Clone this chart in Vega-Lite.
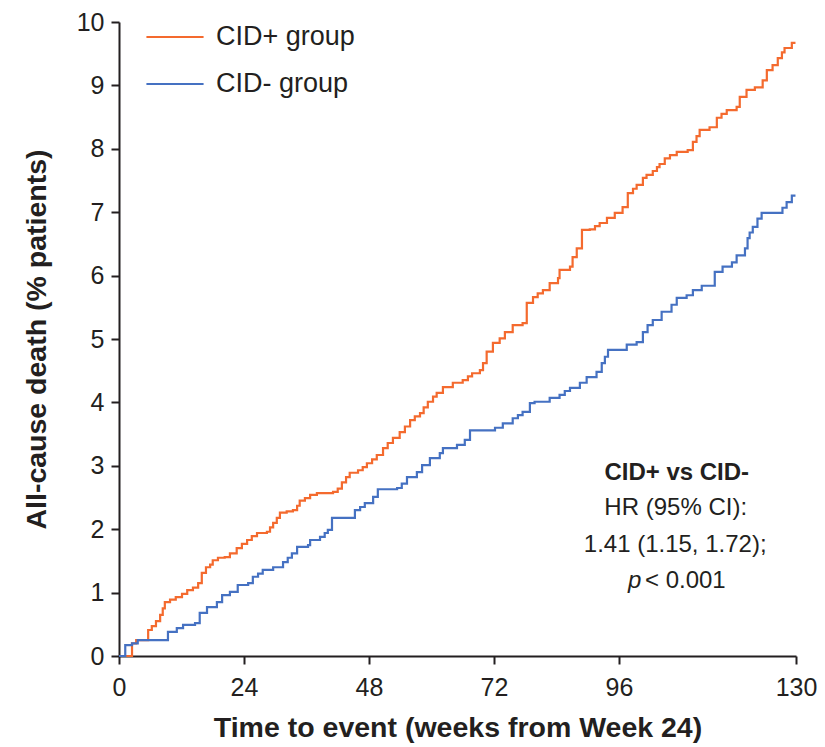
{
  "$schema": "https://vega.github.io/schema/vega-lite/v6.json",
  "width": 677,
  "height": 634,
  "autosize": "none",
  "padding": {"left": 119, "top": 22, "right": 29, "bottom": 91},
  "background": "white",
  "config": {
    "view": {"stroke": null},
    "font": "Liberation Sans",
    "text": {"font": "Liberation Sans", "color": "#231f20"}
  },
  "datasets": {
    "curves": [
      {"group": "CID+ group", "week": 0, "pct": 0},
      {"group": "CID+ group", "week": 2.5, "pct": 0.2},
      {"group": "CID+ group", "week": 3.3, "pct": 0.25},
      {"group": "CID+ group", "week": 5.6, "pct": 0.41},
      {"group": "CID+ group", "week": 6.3, "pct": 0.47},
      {"group": "CID+ group", "week": 7.1, "pct": 0.55},
      {"group": "CID+ group", "week": 7.9, "pct": 0.65},
      {"group": "CID+ group", "week": 8.4, "pct": 0.75},
      {"group": "CID+ group", "week": 8.8, "pct": 0.85},
      {"group": "CID+ group", "week": 9.8, "pct": 0.89},
      {"group": "CID+ group", "week": 10.9, "pct": 0.93},
      {"group": "CID+ group", "week": 12.1, "pct": 0.98},
      {"group": "CID+ group", "week": 13.1, "pct": 1.04},
      {"group": "CID+ group", "week": 14.2, "pct": 1.08},
      {"group": "CID+ group", "week": 15.2, "pct": 1.15},
      {"group": "CID+ group", "week": 15.9, "pct": 1.31},
      {"group": "CID+ group", "week": 16.7, "pct": 1.4},
      {"group": "CID+ group", "week": 17.5, "pct": 1.44},
      {"group": "CID+ group", "week": 18.0, "pct": 1.51},
      {"group": "CID+ group", "week": 19.0, "pct": 1.55},
      {"group": "CID+ group", "week": 20.3, "pct": 1.56},
      {"group": "CID+ group", "week": 21.3, "pct": 1.62},
      {"group": "CID+ group", "week": 22.6, "pct": 1.7},
      {"group": "CID+ group", "week": 23.6, "pct": 1.77},
      {"group": "CID+ group", "week": 24.6, "pct": 1.83},
      {"group": "CID+ group", "week": 25.5, "pct": 1.89},
      {"group": "CID+ group", "week": 26.5, "pct": 1.94},
      {"group": "CID+ group", "week": 28.4, "pct": 1.96},
      {"group": "CID+ group", "week": 29.0, "pct": 2.03},
      {"group": "CID+ group", "week": 29.6, "pct": 2.1},
      {"group": "CID+ group", "week": 30.3, "pct": 2.18},
      {"group": "CID+ group", "week": 30.9, "pct": 2.26},
      {"group": "CID+ group", "week": 32.2, "pct": 2.28},
      {"group": "CID+ group", "week": 33.4, "pct": 2.3},
      {"group": "CID+ group", "week": 34.2, "pct": 2.37},
      {"group": "CID+ group", "week": 34.7, "pct": 2.45},
      {"group": "CID+ group", "week": 35.7, "pct": 2.49},
      {"group": "CID+ group", "week": 36.7, "pct": 2.54},
      {"group": "CID+ group", "week": 38.0, "pct": 2.57},
      {"group": "CID+ group", "week": 41.1, "pct": 2.59},
      {"group": "CID+ group", "week": 42.0, "pct": 2.64},
      {"group": "CID+ group", "week": 42.8, "pct": 2.74},
      {"group": "CID+ group", "week": 43.6, "pct": 2.82},
      {"group": "CID+ group", "week": 44.3, "pct": 2.89},
      {"group": "CID+ group", "week": 45.9, "pct": 2.93},
      {"group": "CID+ group", "week": 46.8, "pct": 2.98},
      {"group": "CID+ group", "week": 47.6, "pct": 3.04},
      {"group": "CID+ group", "week": 48.6, "pct": 3.1},
      {"group": "CID+ group", "week": 49.5, "pct": 3.17},
      {"group": "CID+ group", "week": 50.7, "pct": 3.28},
      {"group": "CID+ group", "week": 51.6, "pct": 3.36},
      {"group": "CID+ group", "week": 52.6, "pct": 3.44},
      {"group": "CID+ group", "week": 53.9, "pct": 3.53},
      {"group": "CID+ group", "week": 54.9, "pct": 3.62},
      {"group": "CID+ group", "week": 55.9, "pct": 3.72},
      {"group": "CID+ group", "week": 56.8, "pct": 3.78},
      {"group": "CID+ group", "week": 57.8, "pct": 3.83},
      {"group": "CID+ group", "week": 58.5, "pct": 3.92},
      {"group": "CID+ group", "week": 59.3, "pct": 4.01},
      {"group": "CID+ group", "week": 60.3, "pct": 4.09},
      {"group": "CID+ group", "week": 61.0, "pct": 4.15},
      {"group": "CID+ group", "week": 62.2, "pct": 4.24},
      {"group": "CID+ group", "week": 64.1, "pct": 4.31},
      {"group": "CID+ group", "week": 66.0, "pct": 4.35},
      {"group": "CID+ group", "week": 67.0, "pct": 4.41},
      {"group": "CID+ group", "week": 67.8, "pct": 4.46},
      {"group": "CID+ group", "week": 69.3, "pct": 4.51},
      {"group": "CID+ group", "week": 69.9, "pct": 4.62},
      {"group": "CID+ group", "week": 70.6, "pct": 4.8},
      {"group": "CID+ group", "week": 71.8, "pct": 4.94},
      {"group": "CID+ group", "week": 73.1, "pct": 5.01},
      {"group": "CID+ group", "week": 74.1, "pct": 5.11},
      {"group": "CID+ group", "week": 75.6, "pct": 5.22},
      {"group": "CID+ group", "week": 77.5, "pct": 5.25},
      {"group": "CID+ group", "week": 78.3, "pct": 5.57},
      {"group": "CID+ group", "week": 79.5, "pct": 5.66},
      {"group": "CID+ group", "week": 80.4, "pct": 5.72},
      {"group": "CID+ group", "week": 81.4, "pct": 5.77},
      {"group": "CID+ group", "week": 82.7, "pct": 5.88},
      {"group": "CID+ group", "week": 84.3, "pct": 5.96},
      {"group": "CID+ group", "week": 84.6, "pct": 6.09},
      {"group": "CID+ group", "week": 86.6, "pct": 6.14},
      {"group": "CID+ group", "week": 87.1, "pct": 6.29},
      {"group": "CID+ group", "week": 87.9, "pct": 6.43},
      {"group": "CID+ group", "week": 88.9, "pct": 6.72},
      {"group": "CID+ group", "week": 90.4, "pct": 6.73},
      {"group": "CID+ group", "week": 91.4, "pct": 6.78},
      {"group": "CID+ group", "week": 92.3, "pct": 6.83},
      {"group": "CID+ group", "week": 93.7, "pct": 6.91},
      {"group": "CID+ group", "week": 95.2, "pct": 6.99},
      {"group": "CID+ group", "week": 96.7, "pct": 7.08},
      {"group": "CID+ group", "week": 97.7, "pct": 7.3},
      {"group": "CID+ group", "week": 98.7, "pct": 7.37},
      {"group": "CID+ group", "week": 99.4, "pct": 7.43},
      {"group": "CID+ group", "week": 100.6, "pct": 7.54},
      {"group": "CID+ group", "week": 101.3, "pct": 7.59},
      {"group": "CID+ group", "week": 102.5, "pct": 7.65},
      {"group": "CID+ group", "week": 103.3, "pct": 7.71},
      {"group": "CID+ group", "week": 103.8, "pct": 7.76},
      {"group": "CID+ group", "week": 104.8, "pct": 7.85},
      {"group": "CID+ group", "week": 105.8, "pct": 7.9},
      {"group": "CID+ group", "week": 107.1, "pct": 7.95},
      {"group": "CID+ group", "week": 109.2, "pct": 7.98},
      {"group": "CID+ group", "week": 110.2, "pct": 8.11},
      {"group": "CID+ group", "week": 110.9, "pct": 8.2},
      {"group": "CID+ group", "week": 111.5, "pct": 8.3},
      {"group": "CID+ group", "week": 113.4, "pct": 8.34},
      {"group": "CID+ group", "week": 114.8, "pct": 8.49},
      {"group": "CID+ group", "week": 115.7, "pct": 8.55},
      {"group": "CID+ group", "week": 116.7, "pct": 8.61},
      {"group": "CID+ group", "week": 118.6, "pct": 8.66},
      {"group": "CID+ group", "week": 119.2, "pct": 8.82},
      {"group": "CID+ group", "week": 120.5, "pct": 8.93},
      {"group": "CID+ group", "week": 122.1, "pct": 8.97},
      {"group": "CID+ group", "week": 123.6, "pct": 9.08},
      {"group": "CID+ group", "week": 124.4, "pct": 9.24},
      {"group": "CID+ group", "week": 125.5, "pct": 9.32},
      {"group": "CID+ group", "week": 126.5, "pct": 9.43},
      {"group": "CID+ group", "week": 127.3, "pct": 9.52},
      {"group": "CID+ group", "week": 127.8, "pct": 9.59},
      {"group": "CID+ group", "week": 129.2, "pct": 9.67},
      {"group": "CID+ group", "week": 129.9, "pct": 9.67},
      {"group": "CID- group", "week": 0, "pct": 0},
      {"group": "CID- group", "week": 1.2, "pct": 0.17},
      {"group": "CID- group", "week": 2.5, "pct": 0.2},
      {"group": "CID- group", "week": 3.6, "pct": 0.25},
      {"group": "CID- group", "week": 9.4, "pct": 0.38},
      {"group": "CID- group", "week": 11.1, "pct": 0.44},
      {"group": "CID- group", "week": 12.3, "pct": 0.49},
      {"group": "CID- group", "week": 14.6, "pct": 0.52},
      {"group": "CID- group", "week": 15.5, "pct": 0.68},
      {"group": "CID- group", "week": 16.9, "pct": 0.77},
      {"group": "CID- group", "week": 18.8, "pct": 0.85},
      {"group": "CID- group", "week": 19.8, "pct": 0.96},
      {"group": "CID- group", "week": 21.3, "pct": 1.01},
      {"group": "CID- group", "week": 22.8, "pct": 1.12},
      {"group": "CID- group", "week": 24.8, "pct": 1.15},
      {"group": "CID- group", "week": 25.7, "pct": 1.25},
      {"group": "CID- group", "week": 26.7, "pct": 1.3},
      {"group": "CID- group", "week": 27.6, "pct": 1.36},
      {"group": "CID- group", "week": 29.6, "pct": 1.4},
      {"group": "CID- group", "week": 31.5, "pct": 1.48},
      {"group": "CID- group", "week": 32.4, "pct": 1.55},
      {"group": "CID- group", "week": 33.2, "pct": 1.62},
      {"group": "CID- group", "week": 34.2, "pct": 1.72},
      {"group": "CID- group", "week": 36.3, "pct": 1.75},
      {"group": "CID- group", "week": 36.7, "pct": 1.83},
      {"group": "CID- group", "week": 38.6, "pct": 1.88},
      {"group": "CID- group", "week": 39.5, "pct": 1.94},
      {"group": "CID- group", "week": 40.1, "pct": 1.99},
      {"group": "CID- group", "week": 40.9, "pct": 2.18},
      {"group": "CID- group", "week": 45.3, "pct": 2.3},
      {"group": "CID- group", "week": 46.3, "pct": 2.35},
      {"group": "CID- group", "week": 47.2, "pct": 2.41},
      {"group": "CID- group", "week": 48.8, "pct": 2.51},
      {"group": "CID- group", "week": 49.7, "pct": 2.63},
      {"group": "CID- group", "week": 53.4, "pct": 2.65},
      {"group": "CID- group", "week": 54.3, "pct": 2.72},
      {"group": "CID- group", "week": 55.3, "pct": 2.82},
      {"group": "CID- group", "week": 57.2, "pct": 2.9},
      {"group": "CID- group", "week": 58.2, "pct": 3.01},
      {"group": "CID- group", "week": 59.7, "pct": 3.12},
      {"group": "CID- group", "week": 61.6, "pct": 3.2},
      {"group": "CID- group", "week": 62.2, "pct": 3.28},
      {"group": "CID- group", "week": 64.9, "pct": 3.33},
      {"group": "CID- group", "week": 66.4, "pct": 3.41},
      {"group": "CID- group", "week": 67.4, "pct": 3.56},
      {"group": "CID- group", "week": 72.2, "pct": 3.6},
      {"group": "CID- group", "week": 73.7, "pct": 3.67},
      {"group": "CID- group", "week": 75.6, "pct": 3.75},
      {"group": "CID- group", "week": 76.6, "pct": 3.8},
      {"group": "CID- group", "week": 77.5, "pct": 3.85},
      {"group": "CID- group", "week": 78.9, "pct": 3.99},
      {"group": "CID- group", "week": 79.8, "pct": 4.01},
      {"group": "CID- group", "week": 82.7, "pct": 4.07},
      {"group": "CID- group", "week": 84.6, "pct": 4.12},
      {"group": "CID- group", "week": 85.6, "pct": 4.18},
      {"group": "CID- group", "week": 86.6, "pct": 4.23},
      {"group": "CID- group", "week": 88.5, "pct": 4.31},
      {"group": "CID- group", "week": 89.8, "pct": 4.4},
      {"group": "CID- group", "week": 91.7, "pct": 4.48},
      {"group": "CID- group", "week": 92.7, "pct": 4.62},
      {"group": "CID- group", "week": 93.3, "pct": 4.72},
      {"group": "CID- group", "week": 93.9, "pct": 4.83},
      {"group": "CID- group", "week": 97.5, "pct": 4.91},
      {"group": "CID- group", "week": 99.4, "pct": 4.95},
      {"group": "CID- group", "week": 100.6, "pct": 5.11},
      {"group": "CID- group", "week": 101.5, "pct": 5.22},
      {"group": "CID- group", "week": 102.5, "pct": 5.3},
      {"group": "CID- group", "week": 104.2, "pct": 5.43},
      {"group": "CID- group", "week": 106.1, "pct": 5.54},
      {"group": "CID- group", "week": 107.1, "pct": 5.65},
      {"group": "CID- group", "week": 109.0, "pct": 5.69},
      {"group": "CID- group", "week": 110.2, "pct": 5.77},
      {"group": "CID- group", "week": 111.9, "pct": 5.84},
      {"group": "CID- group", "week": 114.4, "pct": 6.06},
      {"group": "CID- group", "week": 115.9, "pct": 6.14},
      {"group": "CID- group", "week": 117.7, "pct": 6.21},
      {"group": "CID- group", "week": 118.6, "pct": 6.32},
      {"group": "CID- group", "week": 120.2, "pct": 6.43},
      {"group": "CID- group", "week": 120.7, "pct": 6.59},
      {"group": "CID- group", "week": 121.1, "pct": 6.68},
      {"group": "CID- group", "week": 121.7, "pct": 6.77},
      {"group": "CID- group", "week": 122.6, "pct": 6.9},
      {"group": "CID- group", "week": 123.4, "pct": 6.99},
      {"group": "CID- group", "week": 127.4, "pct": 7.07},
      {"group": "CID- group", "week": 128.2, "pct": 7.16},
      {"group": "CID- group", "week": 129.2, "pct": 7.26},
      {"group": "CID- group", "week": 129.9, "pct": 7.26}
    ],
    "note": [{"n": 1}]
  },
  "layer": [
    {
      "data": {"name": "curves"},
      "mark": {"type": "line", "interpolate": "step-after", "strokeWidth": 2.2},
      "encoding": {
        "x": {
          "field": "week", "type": "quantitative",
          "scale": {"domain": [0, 130], "nice": false, "zero": false},
          "axis": {
            "values": [0, 24, 48, 72, 96, 130],
            "title": "Time to event (weeks from Week 24)",
            "grid": false,
            "domainColor": "#231f20", "domainWidth": 2,
            "tickColor": "#231f20", "tickWidth": 2, "tickSize": 8,
            "labelFont": "Liberation Sans", "labelFontSize": 25, "labelColor": "#231f20",
            "labelPadding": 11, "labelFlush": false,
            "titleFont": "Liberation Sans", "titleFontSize": 28.5, "titleFontWeight": "bold",
            "titleColor": "#231f20", "titlePadding": 13
          }
        },
        "y": {
          "field": "pct", "type": "quantitative",
          "scale": {"domain": [0, 10], "nice": false},
          "axis": {
            "values": [0, 1, 2, 3, 4, 5, 6, 7, 8, 9, 10],
            "format": "d",
            "title": "All-cause death (% patients)",
            "grid": false,
            "domainColor": "#231f20", "domainWidth": 2,
            "tickColor": "#231f20", "tickWidth": 2, "tickSize": 8,
            "labelFont": "Liberation Sans", "labelFontSize": 25, "labelColor": "#231f20",
            "labelPadding": 7, "labelFlush": false,
            "titleFont": "Liberation Sans", "titleFontSize": 28.5, "titleFontWeight": "bold",
            "titleColor": "#231f20", "titlePadding": 25
          }
        },
        "color": {
          "field": "group", "type": "nominal",
          "scale": {"domain": ["CID+ group", "CID- group"], "range": ["#F46A2E", "#4571C2"]},
          "legend": {
            "title": null,
            "orient": "none",
            "legendX": 32,
            "legendY": -9,
            "padding": 0,
            "symbolType": "M-1.27,0H1.27",
            "symbolSize": 2025,
            "symbolStrokeWidth": 2.2,
            "rowPadding": 10,
            "labelOffset": 17,
            "labelFont": "Liberation Sans",
            "labelFontSize": 27,
            "labelColor": "#231f20",
            "labelLimit": 300
          }
        }
      }
    },
    {
      "data": {"name": "note"},
      "mark": {"type": "text", "fontSize": 24, "fontWeight": "bold", "align": "center", "baseline": "middle", "color": "#231f20"},
      "encoding": {"x": {"datum": 107.1}, "y": {"datum": 2.88}, "text": {"value": "CID+ vs CID-"}}
    },
    {
      "data": {"name": "note"},
      "mark": {"type": "text", "fontSize": 24, "align": "center", "baseline": "middle", "color": "#231f20"},
      "encoding": {"x": {"datum": 106.9}, "y": {"datum": 2.34}, "text": {"value": "HR (95% CI):"}}
    },
    {
      "data": {"name": "note"},
      "mark": {"type": "text", "fontSize": 24, "align": "center", "baseline": "middle", "color": "#231f20"},
      "encoding": {"x": {"datum": 106.8}, "y": {"datum": 1.75}, "text": {"value": "1.41 (1.15, 1.72);"}}
    },
    {
      "data": {"name": "note"},
      "mark": {"type": "text", "fontSize": 24, "fontStyle": "italic", "align": "right", "baseline": "middle", "color": "#231f20"},
      "encoding": {"x": {"datum": 100.3}, "y": {"datum": 1.18}, "text": {"value": "p"}}
    },
    {
      "data": {"name": "note"},
      "mark": {"type": "text", "fontSize": 24, "align": "left", "baseline": "middle", "color": "#231f20"},
      "encoding": {"x": {"datum": 101.0}, "y": {"datum": 1.18}, "text": {"value": "< 0.001"}}
    }
  ]
}
